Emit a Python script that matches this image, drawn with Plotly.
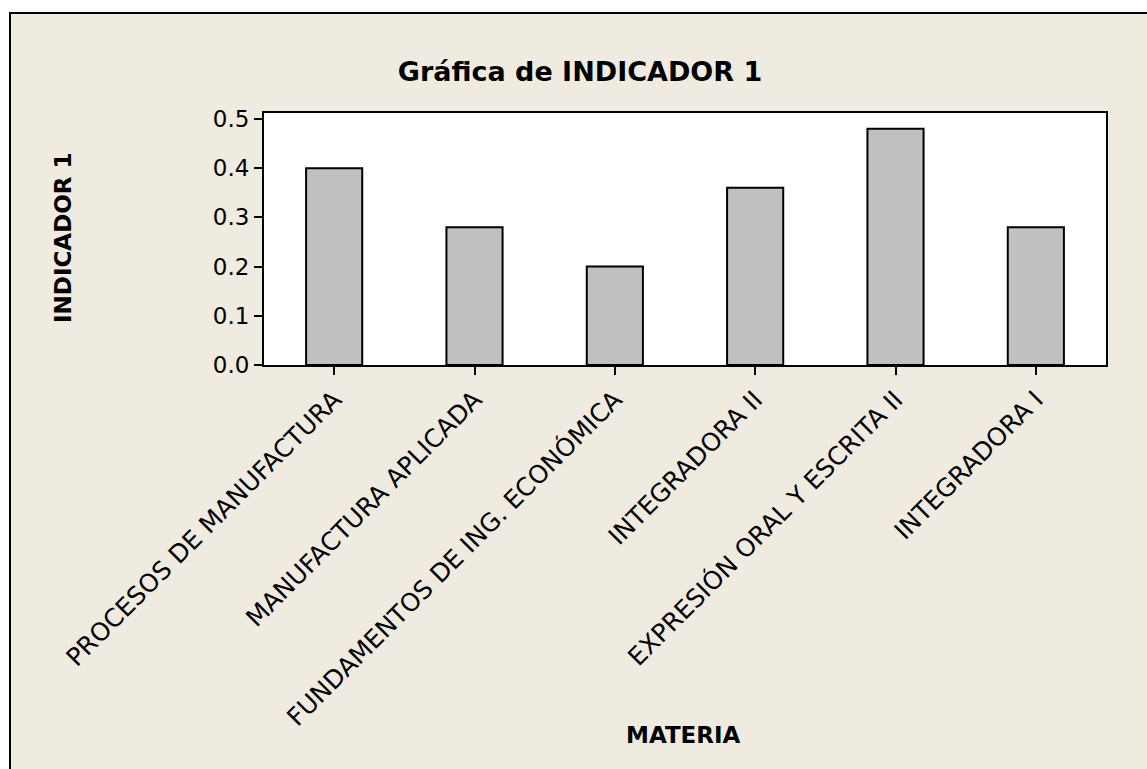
import plotly.graph_objects as go

categories = [
    "PROCESOS DE MANUFACTURA",
    "MANUFACTURA APLICADA",
    "FUNDAMENTOS DE ING. ECONÓMICA",
    "INTEGRADORA II",
    "EXPRESIÓN ORAL Y ESCRITA II",
    "INTEGRADORA I",
]
indicador_1 = [0.40, 0.28, 0.20, 0.36, 0.48, 0.28]
y_ticks = [0.0, 0.1, 0.2, 0.3, 0.4, 0.5]
y_tick_labels = ["0.0", "0.1", "0.2", "0.3", "0.4", "0.5"]

BEIGE = "#EFEBE1"
FONT = "DejaVu Sans"

fig = go.Figure()
fig.add_trace(go.Bar(
    x=categories,
    y=indicador_1,
    width=0.4,
    marker=dict(color="#C0C0C0", line=dict(color="black", width=2)),
))

W, H = 1147, 769
L, R, T, B = 264, 41, 113, 404
pw = W - L - R
ph = H - T - B

def px_x(x):
    return (x - L) / pw

def px_y(y):
    return (H - B - y) / ph

fig.update_layout(
    width=W, height=H,
    margin=dict(l=L, r=R, t=T, b=B, autoexpand=False),
    paper_bgcolor="white",
    plot_bgcolor="white",
    showlegend=False,
    title=dict(
        text="Gráfica de INDICADOR 1",
        x=px_x(580), xref="paper", xanchor="center",
        y=1 - 72 / H, yref="container", yanchor="middle",
        font=dict(family=FONT, size=27, color="black", weight="bold"),
    ),
    xaxis=dict(
        type="category",
        range=[-0.5, 5.5],
        showline=True, linecolor="black", linewidth=2, mirror=True,
        ticks="outside", ticklen=8, tickwidth=2, tickcolor="black",
        tickangle=-45,
        tickfont=dict(family=FONT, size=25, color="black"),
        showgrid=False, zeroline=False,
        automargin=False,
    ),
    yaxis=dict(
        range=[0, 0.512],
        tickvals=y_ticks, ticktext=y_tick_labels,
        showline=True, linecolor="black", linewidth=2, mirror=True,
        ticks="outside", ticklen=8, tickwidth=2, tickcolor="black",
        tickfont=dict(family=FONT, size=23, color="black"),
        showgrid=False, zeroline=False,
        automargin=False,
    ),
    shapes=[
        dict(type="rect", xref="paper", yref="paper", layer="below",
             x0=px_x(10), x1=px_x(1200), y0=px_y(900), y1=px_y(13),
             fillcolor=BEIGE, line=dict(color="black", width=2)),
        dict(type="rect", xref="paper", yref="paper", layer="below",
             x0=0, x1=1, y0=0, y1=1,
             fillcolor="white", line=dict(width=0)),
    ],
    annotations=[
        dict(text="INDICADOR 1", xref="paper", yref="paper",
             x=px_x(63), y=px_y(238), textangle=-90, showarrow=False,
             xanchor="center", yanchor="middle",
             font=dict(family=FONT, size=23, color="black", weight="bold")),
        dict(text="MATERIA", xref="paper", yref="paper",
             x=px_x(683), y=px_y(735), showarrow=False,
             xanchor="center", yanchor="middle",
             font=dict(family=FONT, size=23, color="black", weight="bold")),
    ],
)

fig.write_html(
    "out.html",
    config={"displayModeBar": False},
    post_script="document.body.style.margin='0';document.body.style.overflow='hidden';",
)
